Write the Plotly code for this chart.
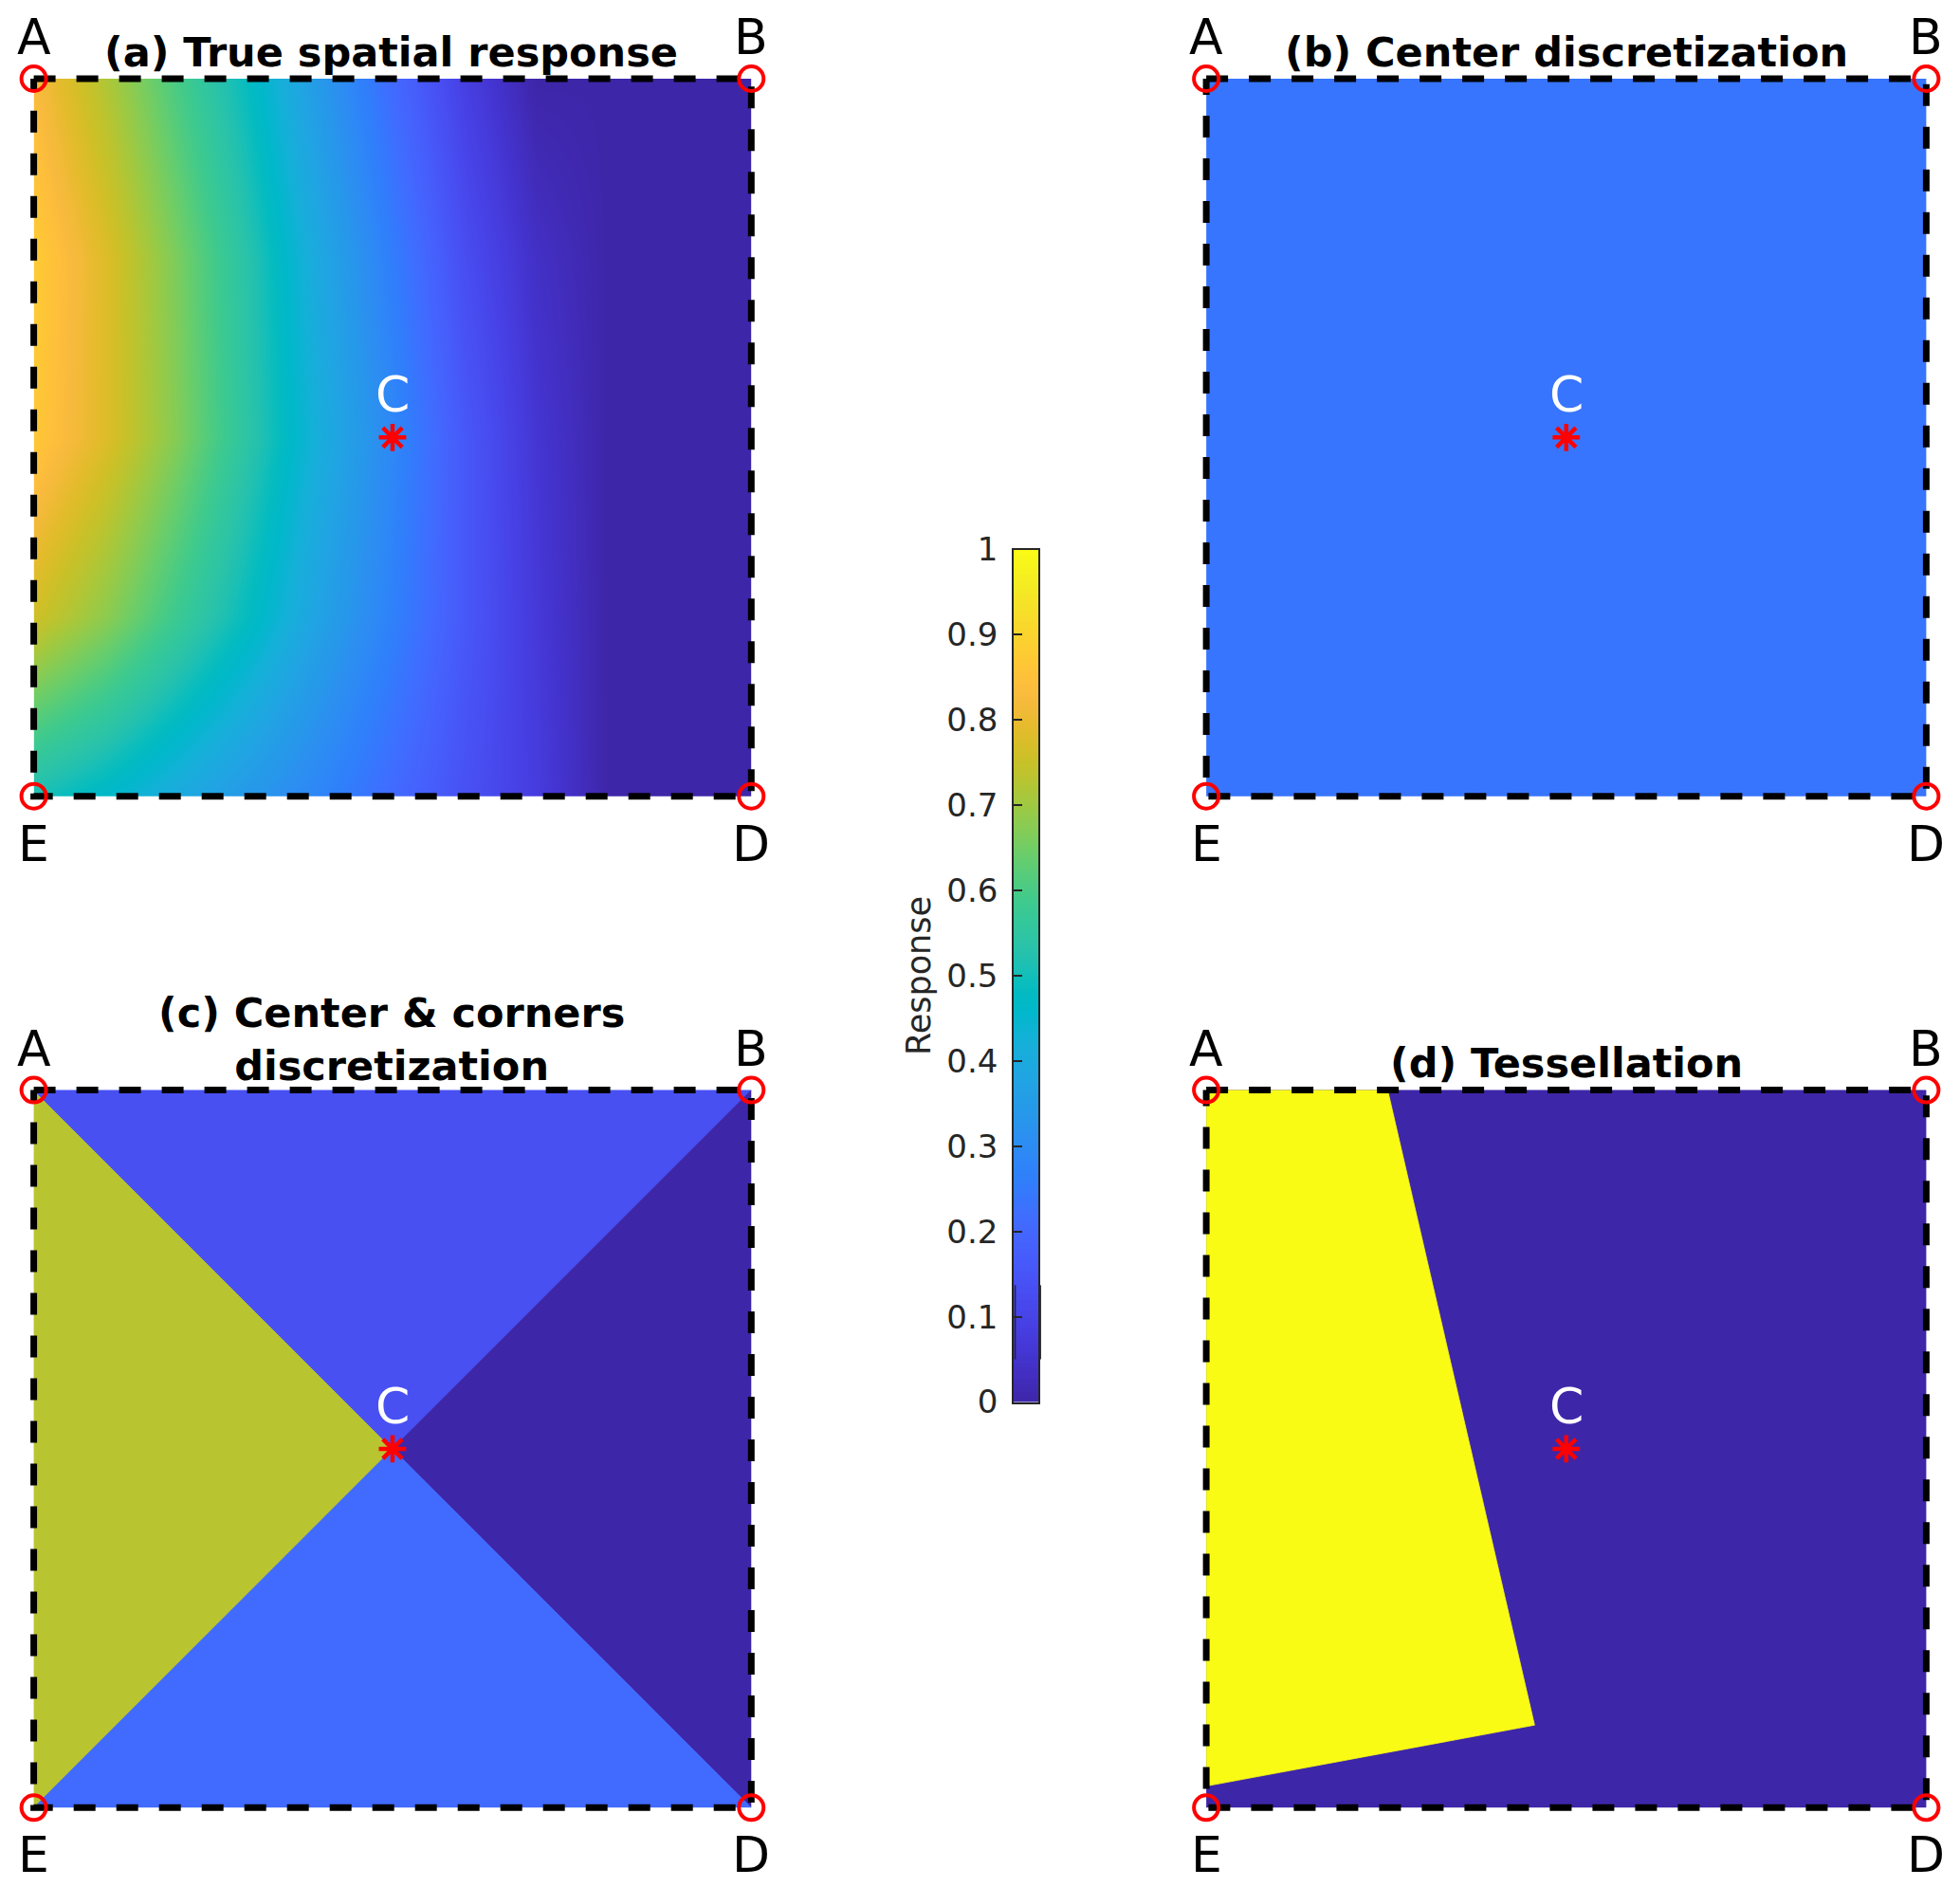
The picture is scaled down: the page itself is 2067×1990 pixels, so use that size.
import numpy as np
import plotly.graph_objects as go
from plotly.colors import sample_colorscale

# ---------------- data ----------------
corner_names = ["A", "B", "D", "E"]
corner_x = [0.0, 1.0, 1.0, 0.0]
corner_y = [1.0, 1.0, 0.0, 0.0]
center_name = "C"
center_x = [0.5]
center_y = [0.5]

# (a) true spatial response, values on a coarse grid
field_x = [0.0, 0.1, 0.2, 0.3, 0.4, 0.5, 0.6, 0.7, 0.8, 0.9, 1.0]
field_y = [0.0, 0.25, 0.5, 0.75, 1.0]
field_z = [
    [0.51, 0.46, 0.40, 0.34, 0.28, 0.21, 0.14, 0.08, 0.0, 0.0, 0.0],
    [0.76, 0.68, 0.58, 0.48, 0.37, 0.27, 0.16, 0.07, 0.0, 0.0, 0.0],
    [0.87, 0.78, 0.67, 0.54, 0.41, 0.29, 0.16, 0.06, 0.0, 0.0, 0.0],
    [0.88, 0.78, 0.66, 0.53, 0.39, 0.26, 0.13, 0.04, 0.0, 0.0, 0.0],
    [0.83, 0.72, 0.60, 0.48, 0.34, 0.21, 0.09, 0.0, 0.0, 0.0, 0.0],
]

# (b) centre discretization
center_value = 0.238

# (c) centre & corners discretization: triangles (corner, corner, centre)
tri_x = {"left": [0, 0, 0.5], "top": [0, 1, 0.5], "right": [1, 1, 0.5], "bottom": [0, 1, 0.5]}
tri_y = {"left": [1, 0, 0.5], "top": [1, 1, 0.5], "right": [1, 0, 0.5], "bottom": [0, 0, 0.5]}
tri_value = {"left": 0.73, "top": 0.135, "right": 0.0, "bottom": 0.21}

# (d) tessellation
tess_x = [0.0, 0.252, 0.456, 0.0]
tess_y = [1.0, 1.0, 0.115, 0.030]
tess_value = 1.0
tess_rest_value = 0.0

titles = ["(a) True spatial response", "(b) Center discretization",
          "(c) Center & corners<br>discretization", "(d) Tessellation"]
cbar_ticks = [0, 0.1, 0.2, 0.3, 0.4, 0.5, 0.6, 0.7, 0.8, 0.9, 1.0]
cbar_ticktext = ["0", "0.1", "0.2", "0.3", "0.4", "0.5", "0.6", "0.7", "0.8", "0.9", "1"]
cbar_title = "Response"

# ---------------- colormap (MATLAB parula) ----------------
parula_rgb = [
    (0.2422, 0.1504, 0.6603), (0.2504, 0.1650, 0.7076), (0.2578, 0.1818, 0.7511), (0.2647, 0.1978, 0.7952),
    (0.2706, 0.2147, 0.8364), (0.2751, 0.2342, 0.8710), (0.2783, 0.2559, 0.8991), (0.2803, 0.2782, 0.9221),
    (0.2813, 0.3006, 0.9414), (0.2810, 0.3228, 0.9579), (0.2795, 0.3447, 0.9717), (0.2760, 0.3667, 0.9829),
    (0.2699, 0.3892, 0.9906), (0.2602, 0.4123, 0.9952), (0.2440, 0.4358, 0.9988), (0.2206, 0.4603, 0.9973),
    (0.1963, 0.4847, 0.9892), (0.1834, 0.5074, 0.9798), (0.1786, 0.5289, 0.9682), (0.1764, 0.5499, 0.9520),
    (0.1687, 0.5703, 0.9359), (0.1540, 0.5902, 0.9218), (0.1460, 0.6091, 0.9079), (0.1380, 0.6276, 0.8973),
    (0.1248, 0.6459, 0.8883), (0.1113, 0.6635, 0.8763), (0.0952, 0.6798, 0.8598), (0.0689, 0.6948, 0.8394),
    (0.0297, 0.7082, 0.8163), (0.0036, 0.7203, 0.7917), (0.0067, 0.7312, 0.7660), (0.0433, 0.7411, 0.7394),
    (0.0964, 0.7500, 0.7120), (0.1408, 0.7584, 0.6842), (0.1717, 0.7670, 0.6554), (0.1938, 0.7758, 0.6251),
    (0.2161, 0.7843, 0.5923), (0.2470, 0.7918, 0.5567), (0.2906, 0.7973, 0.5188), (0.3406, 0.8008, 0.4789),
    (0.3909, 0.8029, 0.4354), (0.4456, 0.8024, 0.3909), (0.5044, 0.7993, 0.3480), (0.5616, 0.7942, 0.3045),
    (0.6174, 0.7876, 0.2612), (0.6720, 0.7793, 0.2227), (0.7242, 0.7698, 0.1910), (0.7738, 0.7598, 0.1646),
    (0.8203, 0.7498, 0.1535), (0.8634, 0.7406, 0.1596), (0.9035, 0.7330, 0.1774), (0.9393, 0.7288, 0.2100),
    (0.9728, 0.7298, 0.2394), (0.9956, 0.7434, 0.2371), (0.9970, 0.7659, 0.2199), (0.9952, 0.7893, 0.2028),
    (0.9892, 0.8136, 0.1885), (0.9786, 0.8386, 0.1766), (0.9676, 0.8639, 0.1643), (0.9610, 0.8890, 0.1537),
    (0.9597, 0.9135, 0.1423), (0.9628, 0.9373, 0.1265), (0.9691, 0.9606, 0.1064), (0.9769, 0.9839, 0.0805),
]
n = len(parula_rgb)
parula = [[i / (n - 1), "rgb(%d,%d,%d)" % tuple(round(c * 255) for c in rgb)] for i, rgb in enumerate(parula_rgb)]


def cmap(v):
    return sample_colorscale(parula, [v])[0]


# ---------------- layout geometry ----------------
W, H = 2067, 1990
def fx(a, b):
    return [a / W, b / W]
def fy(top, bot):
    return [1 - bot / H, 1 - top / H]

panel_px = {  # left, right, top, bottom in pixels
    "a": (35.6, 792.3, 83.0, 839.7),
    "b": (1272.1, 2031.4, 83.0, 839.7),
    "c": (35.6, 792.3, 1149.6, 1906.3),
    "d": (1272.1, 2031.4, 1149.6, 1906.3),
}
axis_ids = {"a": "", "b": "2", "c": "3", "d": "4"}
over_ids = {"a": "6", "b": "7", "c": "8", "d": "9"}   # overlay axes for the dashed frame
PAD = 0.02

fig = go.Figure()
sq_x = corner_x + [corner_x[0]]
sq_y = corner_y + [corner_y[0]]

def add_fill(px, py, value, ax):
    fig.add_trace(go.Scatter(x=px + [px[0]], y=py + [py[0]], mode="lines", fill="toself",
                             fillcolor=cmap(value), line=dict(width=0.8, color=cmap(value)),
                             hoverinfo="skip", showlegend=False,
                             xaxis="x" + ax, yaxis="y" + ax))

# (a)
fig.add_trace(go.Heatmap(x=field_x, y=field_y, z=field_z, zsmooth="best", colorscale=parula,
                         zmin=0, zmax=1, showscale=False, xaxis="x", yaxis="y", hoverinfo="skip"))
# (b)
add_fill(corner_x, corner_y, center_value, "2")
# (c)
for k in ["left", "top", "right", "bottom"]:
    add_fill(tri_x[k], tri_y[k], tri_value[k], "3")
# (d)
add_fill(corner_x, corner_y, tess_rest_value, "4")
add_fill(tess_x, tess_y, tess_value, "4")

for key, ax in over_ids.items():
    xa, ya = "x" + ax, "y" + ax
    fig.add_trace(go.Scatter(x=sq_x, y=sq_y, mode="lines",
                             line=dict(color="black", width=7, dash="23px,22px"),
                             hoverinfo="skip", showlegend=False, xaxis=xa, yaxis=ya, cliponaxis=False))
    fig.add_trace(go.Scatter(x=corner_x, y=corner_y, mode="markers",
                             marker=dict(symbol="circle-open", size=26, color="#ff0000",
                                         line=dict(width=4, color="#ff0000")),
                             hoverinfo="skip", showlegend=False, xaxis=xa, yaxis=ya, cliponaxis=False))
    fig.add_trace(go.Scatter(x=center_x, y=center_y, mode="markers",
                             marker=dict(symbol="asterisk-open", size=24, color="#ff0000",
                                         line=dict(width=4.5, color="#ff0000")),
                             hoverinfo="skip", showlegend=False, xaxis=xa, yaxis=ya, cliponaxis=False))

# colorbar as its own axis
cbar_ramp = np.linspace(0, 1, 256)
fig.add_trace(go.Heatmap(x=[0], y=cbar_ramp, z=[[v] for v in cbar_ramp], colorscale=parula,
                         zmin=0, zmax=1, showscale=False, xaxis="x5", yaxis="y5", hoverinfo="skip"))

layout = dict(width=W, height=H, margin=dict(l=0, r=0, t=0, b=0, pad=0, autoexpand=False),
              paper_bgcolor="white", plot_bgcolor="rgba(0,0,0,0)", showlegend=False, autosize=False)
for key in panel_px:
    l, r, t, b = panel_px[key]
    ax = axis_ids[key]
    layout["xaxis" + ax] = dict(domain=fx(l, r), range=[0, 1], visible=False, anchor="y" + ax, automargin=False)
    layout["yaxis" + ax] = dict(domain=fy(t, b), range=[0, 1], visible=False, anchor="x" + ax, automargin=False)
    ox = over_ids[key]
    pw, ph = (r - l) * PAD, (b - t) * PAD
    layout["xaxis" + ox] = dict(domain=fx(l - pw, r + pw), range=[-PAD, 1 + PAD], visible=False,
                                anchor="y" + ox, automargin=False)
    layout["yaxis" + ox] = dict(domain=fy(t - ph, b + ph), range=[-PAD, 1 + PAD], visible=False,
                                anchor="x" + ox, automargin=False)

layout["xaxis5"] = dict(domain=fx(1069.0, 1095.0), range=[-0.5, 0.5], anchor="y5", automargin=False,
                        showline=True, mirror=True, linecolor="#262626", linewidth=1.5,
                        showticklabels=False, ticks="", showgrid=False, zeroline=False)
layout["yaxis5"] = dict(domain=fy(579.5, 1478.5), range=[0, 1], anchor="x5", side="left", automargin=False,
                        showline=True, mirror=True, linecolor="#262626", linewidth=1.5,
                        ticks="inside", ticklen=9, tickwidth=1.5, tickcolor="#262626",
                        tickvals=cbar_ticks, ticktext=cbar_ticktext, ticklabelstandoff=8,
                        tickfont=dict(family="DejaVu Sans", size=34, color="#262626"),
                        showgrid=False, zeroline=False,
                        title=dict(text=cbar_title, standoff=6,
                                   font=dict(family="DejaVu Sans", size=35, color="#262626")))
fig.update_layout(**layout)

# small doubled-outline artefact on the colorbar (slightly shifted copy of the frame)
fig.add_shape(type="line", xref="x5 domain", yref="y5 domain", x0=0.06, x1=0.06, y0=0.05, y1=0.137,
              line=dict(color="#262626", width=1.5))
fig.add_shape(type="line", xref="x5 domain", yref="y5 domain", x0=1.07, x1=1.07, y0=0.05, y1=0.137,
              line=dict(color="#262626", width=2.2))

# titles
title_pos = {"a": (412.6, 55.4), "b": (1651.8, 55.4), "c": (412.6, 1095.5), "d": (1651.8, 1120.6)}
for key, t in zip(["a", "b", "c", "d"], titles):
    x, y = title_pos[key]
    fig.add_annotation(text="<b>%s</b>" % t, x=x / W, y=1 - y / H, xref="paper", yref="paper",
                       showarrow=False, xanchor="center", yanchor="middle",
                       font=dict(family="DejaVu Sans", size=43, color="black"))

# corner and centre letters
for key, ax in axis_ids.items():
    xa, ya = "x" + ax, "y" + ax
    for name, x, y in zip(corner_names, corner_x, corner_y):
        fig.add_annotation(text=name, x=x, y=y, xref=xa, yref=ya, showarrow=False,
                           xanchor="center", yanchor="middle", yshift=44 if y > 0.5 else -50,
                           font=dict(family="DejaVu Sans", size=52, color="black"))
    fig.add_annotation(text=center_name, x=center_x[0], y=center_y[0], xref=xa, yref=ya,
                       showarrow=False, xanchor="center", yanchor="middle", yshift=45,
                       font=dict(family="DejaVu Sans", size=52, color="white"))

fig.write_html("out.html", config={"displayModeBar": False},
               post_script="document.body.style.margin='0px';document.body.style.overflow='hidden';")
